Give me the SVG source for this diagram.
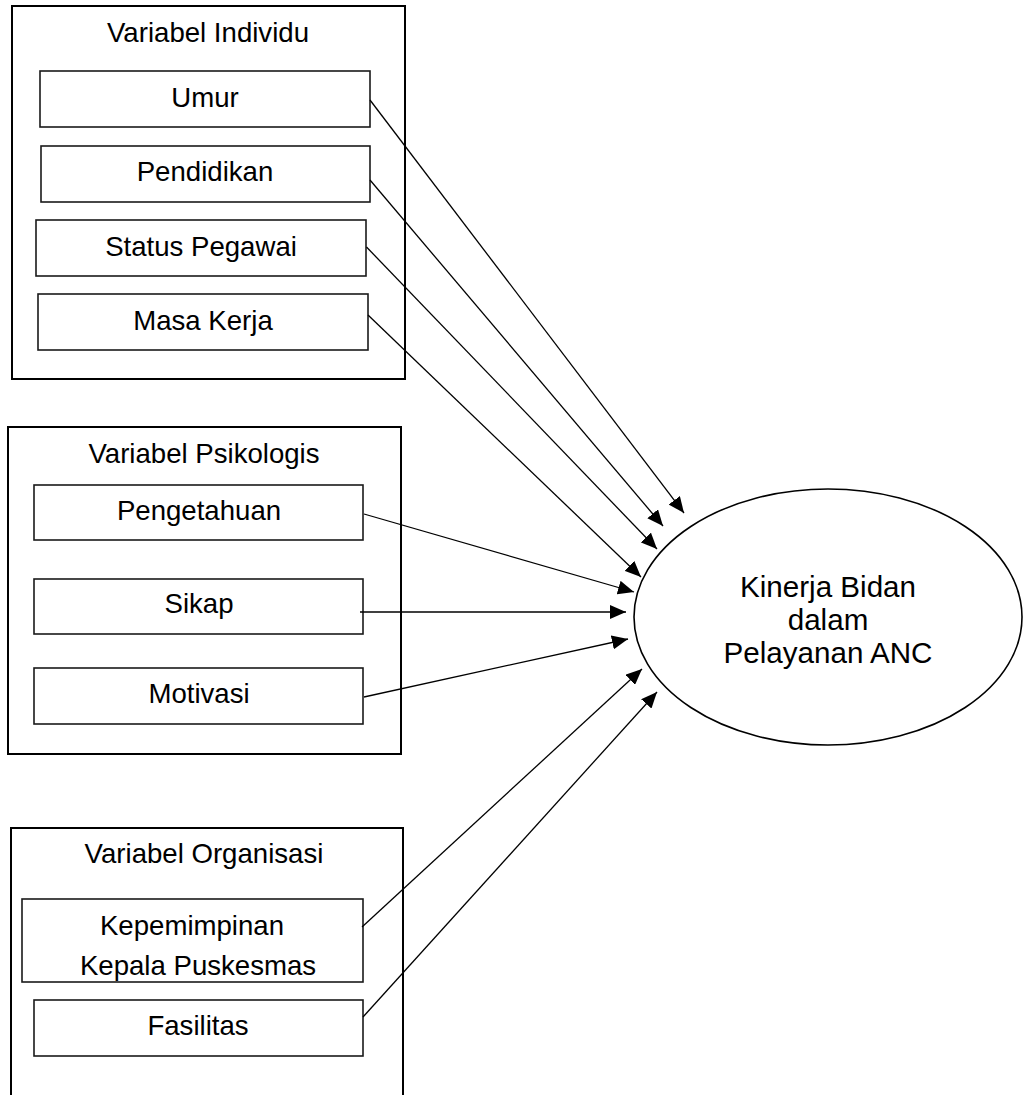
<svg xmlns="http://www.w3.org/2000/svg" width="1025" height="1095" viewBox="0 0 1025 1095">
<style>
.outer{fill:#fff;stroke:#000;stroke-width:2}
.box{fill:#fff;stroke:#1a1a1a;stroke-width:1.6}
.t{font-family:"Liberation Sans",Arial,sans-serif;font-size:27.6px;fill:#000;text-anchor:middle}
.te{font-family:"Liberation Sans",Arial,sans-serif;font-size:29.6px;fill:#000;text-anchor:middle}
.c{stroke:#000;stroke-width:1.3;fill:none;marker-end:url(#ah)}
</style>
<defs>
<marker id="ah" markerUnits="userSpaceOnUse" markerWidth="16" markerHeight="14" refX="16" refY="7" orient="auto">
<path d="M0,0 L16,7 L0,14 z" fill="#000"/>
</marker>
</defs>
<rect width="1025" height="1095" fill="#fff"/>
<g id="grp-individu">
<rect class="outer" x="12" y="6" width="393" height="373"/>
<text class="t" x="208" y="42">Variabel Individu</text>
</g>
<g id="umur"><rect class="box" x="40" y="71" width="330" height="56"/><text class="t" x="205" y="107">Umur</text></g>
<g id="pendidikan"><rect class="box" x="41" y="146" width="329" height="56"/><text class="t" x="205" y="181">Pendidikan</text></g>
<g id="status"><rect class="box" x="36" y="220" width="330" height="56"/><text class="t" x="201" y="256">Status Pegawai</text></g>
<g id="masa"><rect class="box" x="38" y="294" width="330" height="56"/><text class="t" x="203" y="330">Masa Kerja</text></g>
<g id="grp-psikologis">
<rect class="outer" x="8" y="427" width="393" height="327"/>
<text class="t" x="204" y="463">Variabel Psikologis</text>
</g>
<g id="pengetahuan"><rect class="box" x="34" y="485" width="329" height="55"/><text class="t" x="199" y="520">Pengetahuan</text></g>
<g id="sikap"><rect class="box" x="34" y="579" width="329" height="55"/><text class="t" x="199" y="613">Sikap</text></g>
<g id="motivasi"><rect class="box" x="34" y="668" width="329" height="56"/><text class="t" x="199" y="703">Motivasi</text></g>
<g id="grp-organisasi">
<rect class="outer" x="11" y="828" width="392" height="280"/>
<text class="t" x="204" y="863">Variabel Organisasi</text>
</g>
<g id="kepemimpinan"><rect class="box" x="22" y="899" width="341" height="83"/><text class="t" x="192" y="935">Kepemimpinan</text><text class="t" x="198" y="975">Kepala Puskesmas</text></g>
<g id="fasilitas"><rect class="box" x="34" y="1000" width="329" height="56"/><text class="t" x="198" y="1035">Fasilitas</text></g>
<g id="kinerja">
<ellipse cx="828" cy="617" rx="194" ry="128" fill="#fff" stroke="#000" stroke-width="1.6"/>
<text class="te" x="828" y="597">Kinerja Bidan</text>
<text class="te" x="828" y="630">dalam</text>
<text class="te" x="828" y="663">Pelayanan ANC</text>
</g>
<g id="connectors">
<line class="c" x1="370" y1="100" x2="684" y2="513"/>
<line class="c" x1="370" y1="180" x2="663" y2="526"/>
<line class="c" x1="366.5" y1="247" x2="657" y2="549"/>
<line class="c" x1="368" y1="315" x2="641" y2="577"/>
<line class="c" x1="364" y1="514" x2="634" y2="592"/>
<line class="c" x1="360" y1="612" x2="626" y2="612"/>
<line class="c" x1="364" y1="697" x2="628" y2="639"/>
<line class="c" x1="362" y1="927" x2="642" y2="669"/>
<line class="c" x1="363" y1="1017" x2="657" y2="692"/>
</g>
</svg>
